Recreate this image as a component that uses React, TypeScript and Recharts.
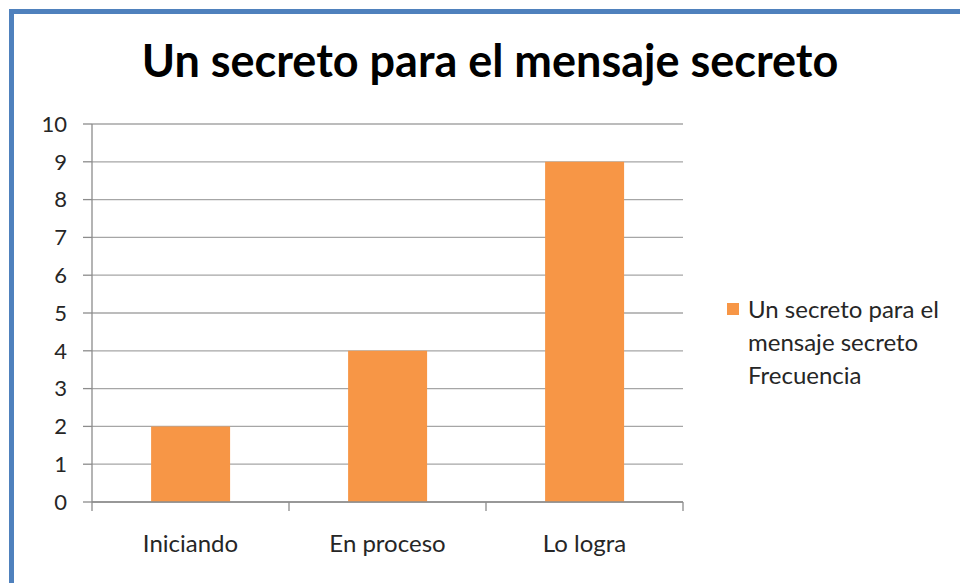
import React from 'react';
import { BarChart, Bar, XAxis, YAxis, CartesianGrid, Legend } from 'recharts';

const categorias = ['Iniciando', 'En proceso', 'Lo logra'];
const frecuencia = [2, 4, 9];
const yTicks = [0, 1, 2, 3, 4, 5, 6, 7, 8, 9, 10];
const serieNombre = 'Un secreto para el mensaje secreto Frecuencia';

const data = categorias.map((nombre, i) => ({ nombre, valor: frecuencia[i] }));

const FONT = 'Lato, "Open Sans", sans-serif';
const NARANJA = '#f79646';
const EJE = '#8c8c8c';
const MARGEN_X = 33;

// etiqueta de categoría + marcas en los bordes de cada categoría (estilo Excel)
function TickCategoria(props: any) {
  const { x, y, payload, index, visibleTicksCount, width } = props;
  const half = payload && payload.offset ? payload.offset : width / (visibleTicksCount * 2);
  const y0 = y - MARGEN_X;
  return (
    <g>
      <line x1={x - half} x2={x - half} y1={y0} y2={y0 + 9} stroke={EJE} strokeWidth={1.3} />
      {index === visibleTicksCount - 1 && (
        <line x1={x + half} x2={x + half} y1={y0} y2={y0 + 9} stroke={EJE} strokeWidth={1.3} />
      )}
      <text x={x} y={y} dy="0.71em" textAnchor="middle" fontFamily={FONT} fontSize={24} fill="#262626">
        {payload.value}
      </text>
    </g>
  );
}

function LeyendaSerie() {
  return (
    <div style={{ display: 'flex', alignItems: 'flex-start', fontFamily: FONT, fontSize: 24, color: '#262626', lineHeight: '33px' }}>
      <span style={{ width: 12, height: 12, background: NARANJA, marginTop: 11, marginRight: 9, flex: 'none' }} />
      <span style={{ width: 205 }}>{serieNombre}</span>
    </div>
  );
}

export default function App() {
  return (
    <div style={{ position: 'absolute', left: 0, top: 0, width: 960, height: 583, background: '#fff', overflow: 'hidden' }}>
      <div style={{ position: 'absolute', left: 9, top: 9, width: 1000, height: 700, borderLeft: '5px solid #4f81bd', borderTop: '5px solid #4f81bd' }} />
      <div style={{ position: 'absolute', left: 0, top: 33, width: 980, textAlign: 'center', fontFamily: FONT, fontWeight: 700, fontSize: 45, color: '#000' }}>
        Un secreto para el mensaje secreto
      </div>
      <div style={{ position: 'absolute', left: 0, top: 0 }}>
        <BarChart width={960} height={583} data={data} margin={{ top: 124, right: 277, bottom: 31, left: 32 }} barCategoryGap="30%">
          <CartesianGrid vertical={false} stroke="#a6a6a6" strokeWidth={1.3} />
          <XAxis
            dataKey="nombre"
            axisLine={{ stroke: EJE, strokeWidth: 1.3 }}
            tickLine={false}
            tickSize={0}
            tickMargin={MARGEN_X}
            height={50}
            interval={0}
            tick={<TickCategoria />}
          />
          <YAxis
            domain={[0, 10]}
            ticks={yTicks}
            interval={0}
            width={60}
            axisLine={{ stroke: EJE, strokeWidth: 1.3 }}
            tickLine={{ stroke: EJE, strokeWidth: 1.3 }}
            tickSize={9}
            tickMargin={16}
            tick={{ fontFamily: FONT, fontSize: 22, fill: '#262626' }}
          />
          <Legend
            verticalAlign="middle"
            layout="horizontal"
            wrapperStyle={{ position: 'absolute', left: 727, top: 292, width: 230 }}
            content={() => <LeyendaSerie />}
          />
          <Bar dataKey="valor" name={serieNombre} fill={NARANJA} isAnimationActive={false} />
        </BarChart>
      </div>
    </div>
  );
}
